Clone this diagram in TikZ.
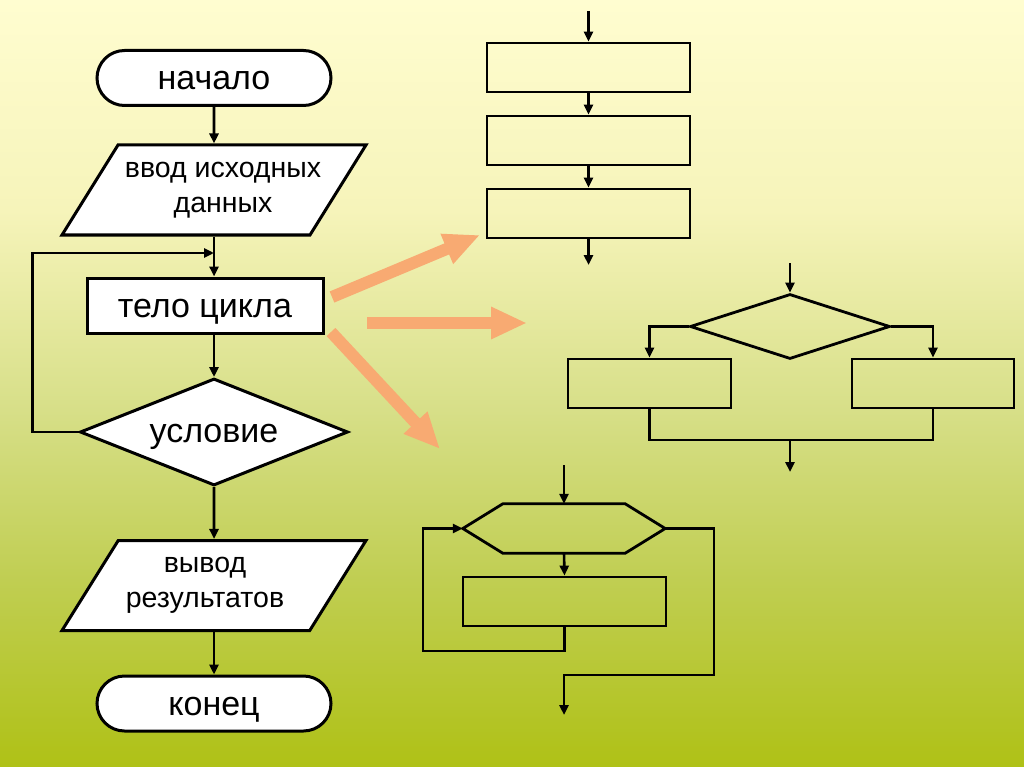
\documentclass[tikz,border=0pt]{standalone}
\usepackage{fontspec}
\setmainfont{Liberation Sans}
\usetikzlibrary{arrows.meta,shapes.geometric,shapes.misc}

\newcommand\bigtxt{\fontsize{34}{40}\selectfont}
\newcommand\smalltxt{\fontsize{28.5}{35}\selectfont}

\definecolor{bgtop}{RGB}{255,253,208}
\definecolor{bghigh}{RGB}{246,244,186}
\definecolor{bgmid}{RGB}{215,223,136}
\definecolor{bglow}{RGB}{192,206,82}
\definecolor{bgbot}{RGB}{175,193,22}
\definecolor{hintorange}{RGB}{248,170,114}

% slide background, pale yellow to olive
\pgfdeclareverticalshading{slidebg}{100bp}{color(0bp)=(bgbot); color(25bp)=(bgbot);
  color(37.2bp)=(bglow); color(48.3bp)=(bgmid); color(61.3bp)=(bghigh);
  color(75bp)=(bgtop); color(100bp)=(bgtop)}

\begin{document}
\begin{tikzpicture}[
      x=1pt, y=-1pt,
      every node/.style={inner sep=0pt},
      flow/.style={draw, line width=2.6pt, -{Triangle[length=10pt,width=9pt]}},
      link/.style={draw, line width=2.6pt},
      term/.style={
          rounded rectangle, draw, fill=white, line width=3pt,
          minimum width=234pt, minimum height=55pt, font=\bigtxt,
          text height=23pt, text depth=0pt
        },
      io/.style={
          trapezium, draw, fill=white, line width=3pt,
          trapezium left angle=45, trapezium right angle=135,
          trapezium stretches body=true,
          minimum width=304pt, minimum height=90pt,
          align=center, font=\smalltxt
        },
      proc/.style={rectangle, draw, fill=white, line width=3pt,
          minimum width=236pt, minimum height=55pt, font=\bigtxt,
          text height=23pt, text depth=0pt},
      decide/.style={diamond, draw, fill=white, line width=3pt, shape aspect=2.5,
          minimum width=268pt, minimum height=107pt, font=\bigtxt,
          text height=21pt, text depth=0pt},
      blank/.style={rectangle, draw, line width=2.8pt,
          minimum width=203pt, minimum height=49pt},
      fork/.style={diamond, draw, line width=2.8pt, shape aspect=3,
          minimum width=200pt, minimum height=65pt},
      hint/.style={draw=hintorange, line width=12pt,
          -{Triangle[length=36pt,width=30pt]}},
    ]
    \shade[shading=slidebg] (0,0) rectangle (1024,767);
    \useasboundingbox (0,0) rectangle (1024,767);

    % general loop scheme
    \node[term] (start) at (214,78) {начало};
    \node[io] (input) at (214,190)
      {\makebox[170pt]{\hspace*{18pt}ввод исходных}\\\makebox[170pt]{\hspace*{18pt}данных}};
    \node[proc] (body) at (205,305.5) {тело цикла};
    \node[decide] (cond) at (214,432) {условие};
    \node[io] (output) at (214,585.5) {вывод\hspace*{18pt}\\результатов\hspace*{18pt}};
    \node[term] (stop) at (214,703.5) {конец};
    \coordinate (back) at (214,253);

    \draw[flow] (start) -- (input);
    \draw[flow] (input.south) -- (input.south |- body.north);
    \draw[flow] (cond.north |- body.south) -- (cond.north);
    \draw[flow] (cond.west) -- ++(-46,0) |- (back);
    \draw[flow] (cond) -- (output);
    \draw[flow] (output) -- (stop);

    % sequence
    \node[blank] (seqA) at (588.5,67.5) {};
    \node[blank] (seqB) at (588.5,140.5) {};
    \node[blank] (seqC) at (588.5,213.5) {};
    \coordinate (seqIn) at (588.5,11);
    \coordinate (seqOut) at (588.5,265);
    \draw[flow] (seqIn) -- (seqA);
    \draw[flow] (seqA) -- (seqB);
    \draw[flow] (seqB) -- (seqC);
    \draw[flow] (seqC) -- (seqOut);

    % branching
    \node[fork] (test) at (790,326.5) {};
    \node[blank, minimum width=163pt] (testL) at (649.5,383.5) {};
    \node[blank, minimum width=162pt] (testR) at (933,383.5) {};
    \coordinate (testIn) at (790,263);
    \coordinate (testJoin) at (790,440);
    \coordinate (testOut) at (790,472);
    \draw[flow] (testIn) -- (test);
    \draw[flow] (test.west) -| (testL.north);
    \draw[flow] (test.east) -| (testR.north);
    \draw[link] (testL.south) |- (testJoin) -| (testR.south);
    \draw[flow] (testJoin) -- (testOut);

    % loop with header
    \node[minimum width=202pt, minimum height=49pt] (head) at (564,528.5) {};
    \draw[line width=2.8pt] ([xshift=40pt]head.north west) -- ([xshift=-40pt]head.north east)
      -- (head.east) -- ([xshift=-40pt]head.south east) -- ([xshift=40pt]head.south west)
      -- (head.west) -- cycle;
    \node[blank] (cycle) at (564.5,601.5) {};
    \coordinate (headIn) at (564,465);
    \coordinate (loopBack) at (423,651);
    \coordinate (loopTurn) at (714,675);
    \coordinate (loopOut) at (564,715);
    \draw[flow] (headIn) -- (head.north);
    \draw[flow] (head.south) -- (cycle.north);
    \draw[flow] (cycle.south) |- (loopBack) |- (head.west);
    \draw[flow] (head.east) -| (loopTurn) -| (loopOut);

    % pointers to the three forms
    \coordinate (hintA0) at (332,297);
    \coordinate (hintA1) at (480,235);
    \coordinate (hintB0) at (367,323);
    \coordinate (hintB1) at (527,323);
    \coordinate (hintC0) at (331,332);
    \coordinate (hintC1) at (440,449);
    \draw[hint] (hintA0) -- (hintA1);
    \draw[hint] (hintB0) -- (hintB1);
    \draw[hint] (hintC0) -- (hintC1);
  \end{tikzpicture}
\end{document}
